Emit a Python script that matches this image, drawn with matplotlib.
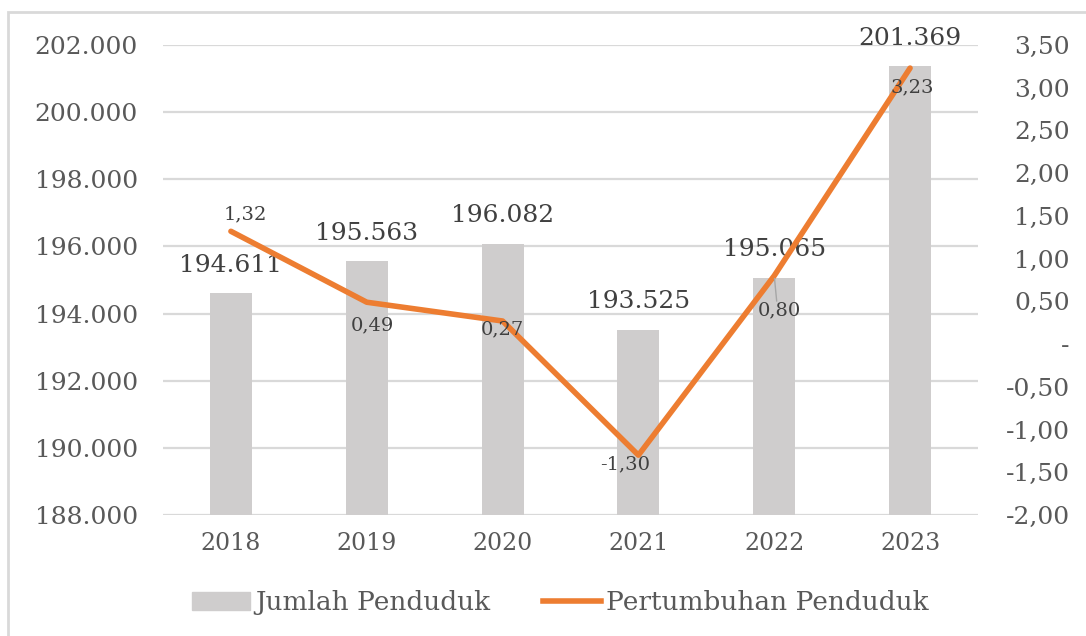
import matplotlib
matplotlib.use('Agg')
import matplotlib.pyplot as plt
from matplotlib.patches import Rectangle, Patch
from matplotlib.lines import Line2D
from matplotlib.ticker import FuncFormatter

tahun = ['2018', '2019', '2020', '2021', '2022', '2023']
jumlah = [194611, 195563, 196082, 193525, 195065, 201369]
pertumbuhan = [1.32, 0.49, 0.27, -1.30, 0.80, 3.23]

plt.rcParams['font.family'] = ['DejaVu Serif']

abu = '#CFCDCD'
oranye = '#ED7D31'
teks = '#595959'

fig = plt.figure(figsize=(10.86, 6.36), dpi=100)
ax = fig.add_axes([163 / 1086, 1 - 515 / 636, (978 - 163) / 1086, 470 / 636])

# bingkai tipis abu-abu
fig.patches.append(Rectangle((8 / 1086, -0.1), 1.2, 1.1 - 12 / 636,
                             transform=fig.transFigure, fill=False,
                             edgecolor='#D9D9D9', lw=2))

x = list(range(len(tahun)))
ax.bar(x, jumlah, width=0.31, color=abu, zorder=2)
ax.set_ylim(188000, 202000)
ax.set_xlim(-0.5, 5.5)
ax.set_yticks(range(188000, 202001, 2000))
ax.yaxis.set_major_formatter(FuncFormatter(lambda v, p: f'{v:,.0f}'.replace(',', '.')))
ax.grid(axis='y', color='#D9D9D9', lw=1.6, zorder=0)
ax.set_xticks(x)
ax.set_xticklabels(tahun)
ax.tick_params(axis='y', length=0, pad=18, labelsize=18, labelcolor=teks)
ax.tick_params(axis='x', length=0, pad=12, labelsize=17, labelcolor=teks)
for s in ax.spines.values():
    s.set_visible(False)

for i, v in enumerate(jumlah):
    ax.annotate(f'{v:,.0f}'.replace(',', '.'), (i, v), xytext=(0, 28),
                textcoords='offset pixels', ha='center', va='center',
                fontsize=18, color='#404040', zorder=5)

ax2 = ax.twinx()
ax2.plot(x, pertumbuhan, color=oranye, lw=4, solid_capstyle='round', zorder=3)
ax2.set_ylim(-2.0, 3.5)
ax2.set_yticks([i * 0.5 - 2.0 for i in range(12)])


def fmt_kanan(v, p):
    if abs(v) < 1e-9:
        return '-'
    return f'{v:.2f}'.replace('.', ',')


ax2.yaxis.set_major_formatter(FuncFormatter(fmt_kanan))
ax2.tick_params(axis='y', length=0, pad=66, labelsize=18, labelcolor=teks)
for lbl in ax2.get_yticklabels():
    lbl.set_horizontalalignment('right')
for s in ax2.spines.values():
    s.set_visible(False)

geser = [(14, 17), (6, -23), (0, -8), (-13, -9), (5, -35), (2, -19)]
for i, v in enumerate(pertumbuhan):
    ax2.annotate(f'{v:.2f}'.replace('.', ','), (i, v), xytext=geser[i],
                 textcoords='offset pixels', ha='center', va='center',
                 fontsize=14, color='#404040', zorder=6)
ax2.annotate('', (4, pertumbuhan[4]), xytext=(4 + 0.02, pertumbuhan[4] - 0.33),
             arrowprops=dict(arrowstyle='-', color='#A6A6A6', lw=1))

handles = [Patch(color=abu), Line2D([0], [0], color=oranye, lw=4)]
fig.legend(handles, ['Jumlah Penduduk', 'Pertumbuhan Penduduk'], loc='center',
           bbox_to_anchor=(0.516, 0.052), ncol=2, frameon=False, fontsize=19,
           handlelength=2.2, handletextpad=0.2, columnspacing=2.0,
           labelcolor=teks)

fig.savefig('out.png', dpi=100)
